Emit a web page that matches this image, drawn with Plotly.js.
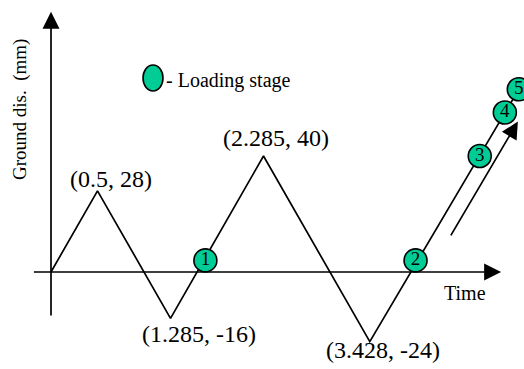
<!DOCTYPE html>
<html>
<head>
<meta charset="utf-8">
<script src="https://cdn.plot.ly/plotly-3.0.1.min.js"></script>
<style>
  html, body { margin: 0; padding: 0; background: #fff; }
  #chart { width: 524px; height: 369px; }
</style>
</head>
<body>
<div id="chart"></div>
<script>
// Ground displacement history (time, mm)
const pathTime = [0, 0.5, 1.285, 2.285, 3.428, 5.03];
const pathDisp = [0, 28, -16, 40, -24, 63];

// Labelled turning points
const peakTime = [0.5, 1.285, 2.285, 3.428];
const peakDisp = [28, -16, 40, -24];
const peakText = ['(0.5, 28)', '(1.285, -16)', '(2.285, 40)', '(3.428, -24)'];

// Loading stages along the history
const stageTime = [1.66, 3.92, 4.61, 4.88, 5.03];
const stageDisp = [4, 4, 40, 55, 63];
const stageText = ['1', '2', '3', '4', '5'];

// Axis arrows and the loading-direction arrow
const timeAxisSpan = [-0.2, 4.84];
const dispAxisSpan = [-15.5, 89.7];
const directionTail = [4.29, 12.1];
const directionTip = [5.02, 51.9];

const SERIF = '"Liberation Serif", "Times New Roman", serif';
const STAGE_GREEN = 'rgb(0,204,150)';

// Label offsets (px) around each turning point
const labelShift = {
  '(0.5, 28)': [13, 12],
  '(1.285, -16)': [28, -16],
  '(2.285, 40)': [12, 18],
  '(3.428, -24)': [13, -8]
};

const traces = [
  {
    x: pathTime, y: pathDisp,
    mode: 'lines', type: 'scatter',
    line: { color: '#000', width: 1.7 },
    hoverinfo: 'skip'
  },
  {
    x: stageTime, y: stageDisp,
    mode: 'markers+text', type: 'scatter',
    text: stageText,
    textposition: 'middle center',
    textfont: { family: SERIF, size: 19, color: '#000' },
    marker: { size: 23, color: STAGE_GREEN, line: { color: '#000', width: 1.6 } },
    hoverinfo: 'skip'
  }
];

const arrowStyle = {
  showarrow: true, arrowhead: 2, arrowsize: 2, arrowwidth: 1.7,
  arrowcolor: '#000', text: '', axref: 'x', ayref: 'y', standoff: 0
};

const annotations = [
  // time axis
  Object.assign({}, arrowStyle, { x: timeAxisSpan[1], y: 0, ax: timeAxisSpan[0], ay: 0 }),
  // displacement axis
  Object.assign({}, arrowStyle, { x: 0, y: dispAxisSpan[1], ax: 0, ay: dispAxisSpan[0] }),
  // loading direction
  Object.assign({}, arrowStyle, { x: directionTip[0], y: directionTip[1], ax: directionTail[0], ay: directionTail[1] })
];

peakText.forEach((t, i) => {
  annotations.push({
    x: peakTime[i], y: peakDisp[i], xref: 'x', yref: 'y',
    text: t, showarrow: false,
    xanchor: 'center', yanchor: 'middle',
    xshift: labelShift[t][0], yshift: labelShift[t][1],
    font: { family: SERIF, size: 24, color: '#000' }
  });
});

annotations.push(
  {
    x: 465 / 524, y: 1 - 293 / 369, xref: 'paper', yref: 'paper',
    text: 'Time', showarrow: false, xanchor: 'center', yanchor: 'middle',
    font: { family: SERIF, size: 20, color: '#000' }
  },
  {
    x: 20 / 524, y: 1 - 110 / 369, xref: 'paper', yref: 'paper',
    text: 'Ground dis.  (mm)', showarrow: false, textangle: -90,
    xanchor: 'center', yanchor: 'middle',
    font: { family: SERIF, size: 19, color: '#000' }
  },
  {
    x: 164 / 524, y: 1 - 81 / 369, xref: 'paper', yref: 'paper',
    text: '- Loading stage', showarrow: false, xanchor: 'left', yanchor: 'middle',
    font: { family: SERIF, size: 20, color: '#000' }
  }
);

const layout = {
  width: 524, height: 369,
  margin: { l: 0, r: 0, t: 0, b: 0 },
  paper_bgcolor: '#fff', plot_bgcolor: '#fff',
  showlegend: false,
  xaxis: { range: [-51 / 93, 473 / 93], visible: false, fixedrange: true },
  yaxis: { range: [-97 / 2.9, 272 / 2.9], visible: false, fixedrange: true },
  annotations: annotations,
  shapes: [
    {
      type: 'circle', xref: 'paper', yref: 'paper',
      x0: 143 / 524, x1: 163 / 524, y0: 1 - 91 / 369, y1: 1 - 65 / 369,
      fillcolor: STAGE_GREEN, line: { color: '#000', width: 1.6 }
    }
  ]
};

Plotly.newPlot('chart', traces, layout, { staticPlot: true, displayModeBar: false });
</script>
</body>
</html>
